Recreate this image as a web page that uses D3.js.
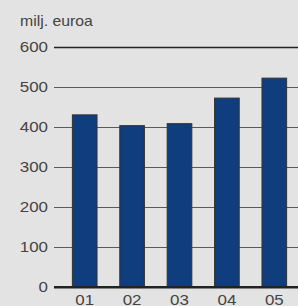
<!DOCTYPE html>
<html><head><meta charset="utf-8">
<script src="https://cdn.jsdelivr.net/npm/d3@7"></script>
<style>body{margin:0;background:#e3e3e3}svg{display:block}text{font-family:"Liberation Sans",Arial,sans-serif;fill:#444}</style>
</head><body>
<script>
const categories = ["01","02","03","04","05"];
const values = [430, 403, 408, 472, 522];
const yTicks = [0,100,200,300,400,500,600];
const unitLabel = "milj. euroa";

const W=298,H=306,SX=1.13;
const svg=d3.select("body").append("svg").attr("width",W).attr("height",H);
svg.append("rect").attr("width",W).attr("height",H).attr("fill","#e3e3e3");
const y=d3.scaleLinear().domain([0,600]).range([286.5,47]);
const x=d3.scaleBand().domain(categories).range([61,298]).paddingInner(0.48).paddingOuter(0.24);

const yAxis=d3.axisLeft(y).tickValues(yTicks).tickSize(0).tickPadding(0);
const ga=svg.append("g").attr("transform","translate(48,0)").call(yAxis);
ga.select(".domain").remove();
ga.selectAll("text").attr("x",0).attr("font-size",15).attr("fill","#444")
  .attr("transform",`scale(${SX},1)`).style("font-family","Liberation Sans, Arial, sans-serif");

svg.append("g").selectAll("line").data(yTicks).join("line")
 .attr("x1",54).attr("x2",W).attr("y1",d=>Math.round(y(d))+0.5).attr("y2",d=>Math.round(y(d))+0.5)
 .attr("stroke",d=>d===0||d===600?"#222":"#5a5a5a").attr("stroke-width",d=>d===0?2:(d===600?1.5:1.2));

svg.append("g").selectAll("rect").data(values).join("rect")
 .attr("x",(d,i)=>x(categories[i])).attr("width",x.bandwidth())
 .attr("y",d=>y(d)).attr("height",d=>y(0)-y(d))
 .attr("fill","#0f3d7d").attr("stroke","#333").attr("stroke-width",1);

svg.append("line").attr("x1",54).attr("x2",W).attr("y1",287).attr("y2",287).attr("stroke","#222").attr("stroke-width",2);

const xa=d3.axisBottom(x).tickSize(0).tickPadding(0);
const gx=svg.append("g").attr("transform","translate(0,304.5)").call(xa);
gx.select(".domain").remove();
gx.selectAll("text").attr("y",0).attr("dy",0).attr("font-size",15).attr("fill","#444")
  .attr("transform",`scale(${SX},1)`).style("font-family","Liberation Sans, Arial, sans-serif");

svg.append("text").attr("x",20/SX).attr("y",26.5).attr("font-size",14)
  .attr("transform",`scale(${SX},1)`).text(unitLabel);
</script>
</body></html>
